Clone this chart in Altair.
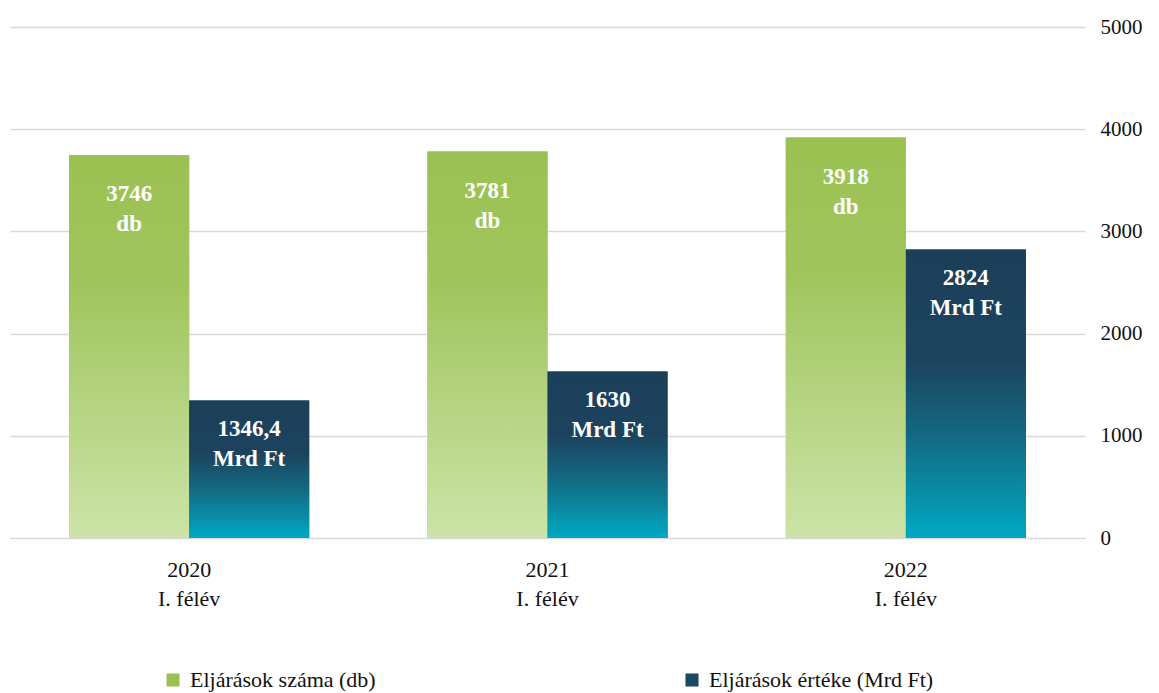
import altair as alt
import pandas as pd

FONT = "Palatino Linotype, Book Antiqua, Palatino, Liberation Serif, serif"

periods = ["2020\nI. félév", "2021\nI. félév", "2022\nI. félév"]
series = ["Eljárások száma (db)", "Eljárások értéke (Mrd Ft)"]
count_values = [3746, 3781, 3918]
value_values = [1346.4, 1630, 2824]
count_labels = ["3746\ndb", "3781\ndb", "3918\ndb"]
value_labels = ["1346,4\nMrd Ft", "1630\nMrd Ft", "2824\nMrd Ft"]
y_ticks = [0, 1000, 2000, 3000, 4000, 5000]

rows = []
for i, p in enumerate(periods):
    rows.append(dict(period=p, series=series[0], value=count_values[i], label=count_labels[i]))
    rows.append(dict(period=p, series=series[1], value=value_values[i], label=value_labels[i]))
df = pd.DataFrame(rows)

green_grad = alt.Gradient(
    gradient="linear", x1=0, x2=0, y1=0, y2=1,
    stops=[alt.GradientStop(color="#9BC152", offset=0),
           alt.GradientStop(color="#A1C55E", offset=0.35),
           alt.GradientStop(color="#CCE4A8", offset=1)])
blue_grad = alt.Gradient(
    gradient="linear", x1=0, x2=0, y1=0, y2=1,
    stops=[alt.GradientStop(color="#1C3F59", offset=0),
           alt.GradientStop(color="#1C435E", offset=0.38),
           alt.GradientStop(color="#136A82", offset=0.65),
           alt.GradientStop(color="#00A9C4", offset=1)])

x_enc = alt.X("period:N", sort=periods,
              scale=alt.Scale(paddingInner=0.33, paddingOuter=0.165),
              axis=alt.Axis(title=None, labelExpr="split(datum.label, '\\n')",
                            labelAngle=0, domain=False, ticks=False, labelPadding=21,
                            labelFont=FONT, labelFontSize=22, labelColor="#111",
                            labelLineHeight=29))
xo_enc = alt.XOffset("series:N", sort=series,
                     scale=alt.Scale(domain=series, paddingInner=0, paddingOuter=0))
y_enc = alt.Y("value:Q", scale=alt.Scale(domain=[0, 5000]),
              axis=alt.Axis(title=None, orient="right", values=y_ticks, format="d",
                            domain=False, ticks=False, labelPadding=15, labelFont=FONT,
                            labelFontSize=21, labelColor="#111", gridColor="#d9d9d9",
                            gridWidth=1.5, labelAlign="left"))

base = alt.Chart(df).encode(x=x_enc, xOffset=xo_enc, y=y_enc)

legend_bars = base.mark_bar().encode(
    color=alt.Color("series:N", sort=series,
                    scale=alt.Scale(domain=series, range=["#9BC152", "#1C4A64"]),
                    legend=alt.Legend(orient="none", legendX=152, legendY=642,
                                      direction="horizontal", title=None,
                                      symbolType="square", symbolSize=170,
                                      symbolStrokeWidth=0, labelFont=FONT,
                                      labelFontSize=22, labelColor="#111",
                                      labelLimit=0, labelOffset=6, columnPadding=305))
)

green_bars = base.transform_filter(alt.datum.series == series[0]).mark_bar(color=green_grad)
blue_bars = base.transform_filter(alt.datum.series == series[1]).mark_bar(color=blue_grad)

green_text = base.transform_filter(alt.datum.series == series[0]).mark_text(
    baseline="top", dy=28, lineBreak="\n", lineHeight=30, font=FONT, fontSize=23,
    fontWeight="bold", color="white").encode(text="label:N")
blue_text = base.transform_filter(alt.datum.series == series[1]).mark_text(
    baseline="top", dy=18, lineBreak="\n", lineHeight=30, font=FONT, fontSize=23,
    fontWeight="bold", color="white").encode(text="label:N")

chart = alt.layer(legend_bars, green_bars, blue_bars, green_text, blue_text).properties(
    width=1075, height=511,
    autosize=alt.AutoSizeParams(type="none"),
    padding={"left": 2, "top": 19, "right": 64, "bottom": 155},
).configure_view(stroke=None)

chart.save("out.html", embed_options={"renderer": "svg", "actions": False})
